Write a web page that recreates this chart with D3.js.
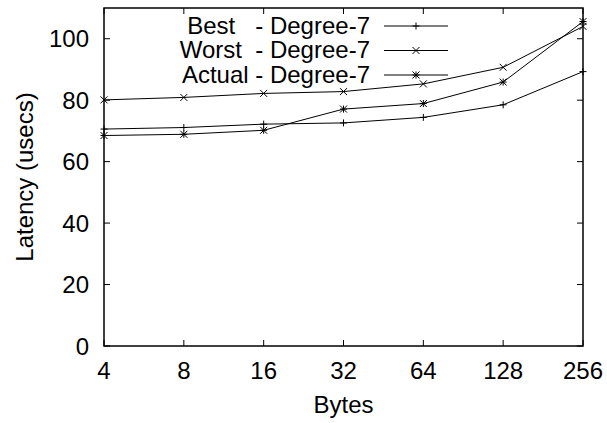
<!DOCTYPE html>
<html lang="en">
<head>
    <meta charset="UTF-8">
    <title>Latency vs Bytes</title>
    <script src="https://d3js.org/d3.v7.min.js"></script>
    <style>
        body { margin: 0; background: #fff; }
        svg text { font-family: "Liberation Sans", Arial, sans-serif; font-size: 24px; fill: #000; }
    </style>
</head>
<body>
    <svg width="607" height="423"></svg>
    <script>
        // data
        const bytes = [4, 8, 16, 32, 64, 128, 256];
        const best = [70.6, 71.1, 72.2, 72.6, 74.4, 78.5, 89.3];
        const worst = [80.1, 80.9, 82.2, 82.8, 85.3, 90.7, 104.0];
        const actual = [68.5, 68.9, 70.2, 77.1, 78.9, 85.9, 105.6];
        const yTicks = [0, 20, 40, 60, 80, 100];
        const seriesNames = ["Best   - Degree-7", "Worst  - Degree-7", "Actual - Degree-7"];

        const margin = { top: 8, right: 24, bottom: 77, left: 104 };
        const W = 607, H = 423;
        const width = W - margin.left - margin.right;
        const height = H - margin.top - margin.bottom;

        const svg = d3.select("svg");
        const g = svg.append("g").attr("transform", `translate(${margin.left},${margin.top})`);

        const x = d3.scaleLog().base(2).domain([4, 256]).range([0, width]);
        const y = d3.scaleLinear().domain([0, 110]).range([height, 0]);

        // tick marks pointing inward on all four sides
        const tick = 6;
        const ticksG = g.append("g").attr("stroke", "#000").attr("stroke-width", 1);
        bytes.forEach(b => {
            ticksG.append("line").attr("x1", x(b)).attr("x2", x(b)).attr("y1", height).attr("y2", height - tick);
            ticksG.append("line").attr("x1", x(b)).attr("x2", x(b)).attr("y1", 0).attr("y2", tick);
        });
        yTicks.forEach(t => {
            ticksG.append("line").attr("x1", 0).attr("x2", tick).attr("y1", y(t)).attr("y2", y(t));
            ticksG.append("line").attr("x1", width).attr("x2", width - tick).attr("y1", y(t)).attr("y2", y(t));
        });

        // tick labels
        g.append("g").selectAll("text").data(bytes).join("text")
            .attr("x", d => x(d)).attr("y", height + 33)
            .attr("text-anchor", "middle").text(d => d);
        g.append("g").selectAll("text").data(yTicks).join("text")
            .attr("x", -15).attr("y", d => y(d) + 8.5)
            .attr("text-anchor", "end").text(d => d);

        // axis titles
        svg.append("text").attr("x", margin.left + width / 2).attr("y", 413)
            .attr("text-anchor", "middle").text("Bytes");
        svg.append("text")
            .attr("transform", `translate(33,${margin.top + height / 2}) rotate(-90)`)
            .attr("text-anchor", "middle").text("Latency (usecs)");

        // point markers in gnuplot style
        const s = 3.5;
        function marker(sel, type, cx, cy) {
            const p = sel.append("path").attr("stroke", "#000").attr("stroke-width", 1).attr("fill", "none");
            let d = "";
            if (type === 0 || type === 2) d += `M${cx - s},${cy}H${cx + s}M${cx},${cy - s}V${cy + s}`;
            if (type === 1 || type === 2) d += `M${cx - s},${cy - s}L${cx + s},${cy + s}M${cx - s},${cy + s}L${cx + s},${cy - s}`;
            p.attr("d", d);
        }

        const line = d3.line().x(d => x(d[0])).y(d => y(d[1]));
        const allSeries = [best, worst, actual];
        allSeries.forEach((vals, i) => {
            const pts = bytes.map((b, j) => [b, vals[j]]);
            g.append("path").datum(pts).attr("d", line)
                .attr("fill", "none").attr("stroke", "#000").attr("stroke-width", 1);
            const mg = g.append("g");
            pts.forEach(p => marker(mg, i, x(p[0]), y(p[1])));
        });

        // legend
        const legX = 370, lineX1 = 384, lineX2 = 448;
        seriesNames.forEach((name, i) => {
            const ly = 26 + i * 24.5;
            svg.append("text").attr("x", legX).attr("y", ly + 7.5)
                .attr("text-anchor", "end").style("white-space", "pre").text(name);
            svg.append("line").attr("x1", lineX1).attr("x2", lineX2).attr("y1", ly).attr("y2", ly)
                .attr("stroke", "#000").attr("stroke-width", 1);
            marker(svg, i, (lineX1 + lineX2) / 2, ly);
        });

        // border
        g.append("rect").attr("width", width).attr("height", height)
            .attr("fill", "none").attr("stroke", "#000").attr("stroke-width", 1.5);
    </script>
</body>
</html>
